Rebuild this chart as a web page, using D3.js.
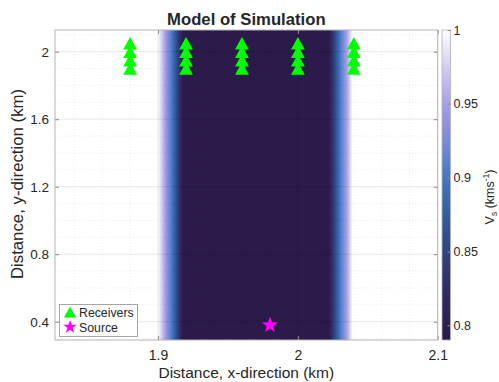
<!DOCTYPE html>
<html>
<head>
<meta charset="utf-8">
<script src="https://cdn.jsdelivr.net/npm/d3@7"></script>
<style>
  body { margin: 0; background: #fff; }
  text { font-family: "Liberation Sans", Arial, sans-serif; fill: #262626; }
</style>
</head>
<body>
<div id="container"></div>
<script>
// velocity profile across x (km, km/s)
const xProfile = [1.826, 1.900, 1.905, 1.910, 1.914, 1.918, 2.022, 2.026, 2.030, 2.035, 2.039, 2.100];
const vProfile = [1.00, 1.00, 0.95, 0.90, 0.85, 0.79, 0.79, 0.85, 0.90, 0.95, 1.00, 1.00];

const receiverX = [1.88, 1.92, 1.96, 2.00, 2.04];
const receiverY = [2.05, 2.00, 1.95, 1.90];
const sourceXY = [1.98, 0.38];

const xTicks = [1.9, 2, 2.1];
const yTicks = [0.4, 0.8, 1.2, 1.6, 2];
const cbTicks = [0.8, 0.85, 0.9, 0.95, 1];

const cmapStops = [0, 0.15, 0.35, 0.5, 0.62, 0.75, 0.88, 1];
const cmapColors = ["#2b1a4a", "#2e2a62", "#2f5192", "#3d72bb", "#6e88d8", "#a39be6", "#d2cdf4", "#ffffff"];

const W = 499, H = 382;
const L = 55, R = 437.7, T = 30, B = 340;

const svg = d3.select("#container").append("svg")
	.attr("width", W)
	.attr("height", H);

const x = d3.scaleLinear().domain([1.8263, 2.1]).range([L, R]);
const y = d3.scaleLinear().domain([0.2916, 2.1286]).range([B, T]);
const vExtent = [0.79, 1.0];
const tScale = d3.scaleLinear().domain(vExtent).range([0, 1]).clamp(true);
const cmap = d3.scaleLinear().domain(cmapStops).range(cmapColors).interpolate(d3.interpolateRgb);
const color = v => cmap(tScale(v));

const defs = svg.append("defs");

// heatmap gradient built from the profile
const grad = defs.append("linearGradient").attr("id", "model")
	.attr("gradientUnits", "userSpaceOnUse")
	.attr("x1", L).attr("x2", R).attr("y1", 0).attr("y2", 0);
for (let i = 0; i < xProfile.length - 1; i++) {
	for (let k = 0; k <= 8; k++) {
		const f = k / 8;
		const xv = xProfile[i] + f * (xProfile[i + 1] - xProfile[i]);
		const vv = vProfile[i] + f * (vProfile[i + 1] - vProfile[i]);
		grad.append("stop")
			.attr("offset", (x(xv) - L) / (R - L))
			.attr("stop-color", color(vv));
	}
}
svg.append("rect")
	.attr("x", L).attr("y", T).attr("width", R - L).attr("height", B - T)
	.attr("fill", "url(#model)");

// grid (drawn on top, faint)
const grid = svg.append("g").attr("stroke", "#000");
d3.range(1.84, 2.1001, 0.02).forEach(v => {
	const major = xTicks.some(t => Math.abs(t - v) < 1e-6);
	grid.append("line")
		.attr("x1", x(v)).attr("x2", x(v)).attr("y1", T).attr("y2", B)
		.attr("stroke-opacity", major ? 0.09 : 0.07)
		.attr("stroke-dasharray", major ? null : "1,2");
});
d3.range(0.3, 2.1001, 0.1).forEach(v => {
	const major = yTicks.some(t => Math.abs(t - v) < 1e-6);
	grid.append("line")
		.attr("x1", L).attr("x2", R).attr("y1", y(v)).attr("y2", y(v))
		.attr("stroke-opacity", major ? 0.09 : 0.07)
		.attr("stroke-dasharray", major ? null : "1,2");
});

// axes
const xAxis = d3.axisBottom(x).tickValues(xTicks).tickFormat(d3.format("")).tickSize(-4).tickPadding(10);
const yAxis = d3.axisLeft(y).tickValues(yTicks).tickFormat(d3.format("")).tickSize(-4).tickPadding(6);
const gx = svg.append("g").attr("transform", `translate(0,${B})`).call(xAxis);
const gy = svg.append("g").attr("transform", `translate(${L},0)`).call(yAxis);
svg.append("g").attr("transform", `translate(0,${T})`)
	.call(d3.axisTop(x).tickValues(xTicks).tickFormat("").tickSize(-4));
svg.append("g").attr("transform", `translate(${R},0)`)
	.call(d3.axisRight(y).tickValues(yTicks).tickFormat("").tickSize(-4));
svg.selectAll(".domain").attr("stroke", "none");
svg.selectAll(".tick line").attr("stroke", "#8c8c8c");
gx.selectAll("text").attr("font-size", 14).attr("fill", "#262626");
gy.selectAll("text").attr("font-size", 13.5).attr("fill", "#262626");
svg.append("rect")
	.attr("x", L).attr("y", T).attr("width", R - L).attr("height", B - T)
	.attr("fill", "none").attr("stroke", "#b3b3b3").attr("stroke-width", 1);

// receivers
const tri = s => `M0,${-s * 0.5}L${s * 0.55},${s * 0.5}L${-s * 0.55},${s * 0.5}Z`;
function star(r) {
	const pts = [];
	for (let i = 0; i < 10; i++) {
		const a = -Math.PI / 2 + i * Math.PI / 5;
		const rr = i % 2 ? r * 0.4 : r;
		pts.push([rr * Math.cos(a), rr * Math.sin(a)]);
	}
	return "M" + pts.join("L") + "Z";
}
const recs = [];
receiverX.forEach(rx => receiverY.forEach(ry => recs.push({x: rx, y: ry})));
svg.selectAll("path.rec").data(recs).enter().append("path")
	.attr("class", "rec")
	.attr("d", tri(12.5))
	.attr("transform", d => `translate(${x(d.x)},${y(d.y)})`)
	.attr("fill", "#00ff00");

svg.append("path")
	.attr("d", star(8.5))
	.attr("transform", `translate(${x(sourceXY[0])},${y(sourceXY[1])})`)
	.attr("fill", "#ff00ff");

// legend
const lg = svg.append("g");
lg.append("rect").attr("x", 59.5).attr("y", 304.5).attr("width", 78).attr("height", 32)
	.attr("fill", "#fff").attr("stroke", "#a6a6a6");
lg.append("path").attr("d", tri(11)).attr("transform", "translate(70,312)").attr("fill", "#00ff00");
lg.append("path").attr("d", star(7)).attr("transform", "translate(70,327)").attr("fill", "#ff00ff");
lg.append("text").attr("x", 79).attr("y", 317).attr("font-size", 12.3).text("Receivers");
lg.append("text").attr("x", 79).attr("y", 332).attr("font-size", 12.3).text("Source");

// colorbar
const cbX = 442, cbW = 8.5;
const cy = d3.scaleLinear().domain(vExtent).range([B, T]);
const cbGrad = defs.append("linearGradient").attr("id", "cb")
	.attr("x1", 0).attr("x2", 0).attr("y1", 1).attr("y2", 0);
cmapStops.forEach((s, i) => cbGrad.append("stop").attr("offset", s).attr("stop-color", cmapColors[i]));
svg.append("rect").attr("x", cbX).attr("y", T).attr("width", cbW).attr("height", B - T)
	.attr("fill", "url(#cb)").attr("stroke", "#b3b3b3").attr("stroke-width", 0.8);
const gcb = svg.append("g").attr("transform", `translate(${cbX + cbW},0)`)
	.call(d3.axisRight(cy).tickValues(cbTicks).tickFormat(d3.format("")).tickSize(-3).tickPadding(3));
gcb.select(".domain").remove();
gcb.selectAll(".tick line").attr("stroke", "#8c8c8c");
gcb.selectAll("text").attr("font-size", 12.5).attr("fill", "#262626");

const cbl = svg.append("text")
	.attr("transform", "translate(494,197) rotate(-90)")
	.attr("text-anchor", "middle")
	.attr("font-size", 12.5);
cbl.append("tspan").text("V");
cbl.append("tspan").attr("font-size", 8.5).attr("dy", 3).text("s");
cbl.append("tspan").attr("dy", -3).text(" (kms");
cbl.append("tspan").attr("font-size", 8.5).attr("dy", -5).text("-1");
cbl.append("tspan").attr("dy", 5).text(")");

// titles
svg.append("text").attr("x", (L + R) / 2).attr("y", 25)
	.attr("text-anchor", "middle").attr("font-size", 16.7).attr("font-weight", "bold")
	.attr("fill", "#000").text("Model of Simulation");
svg.append("text").attr("x", (L + R) / 2).attr("y", 378)
	.attr("text-anchor", "middle").attr("font-size", 15.5).text("Distance, x-direction (km)");
svg.append("text").attr("transform", `translate(23,184) rotate(-90)`)
	.attr("text-anchor", "middle").attr("font-size", 16.8).text("Distance, y-direction (km)");
</script>
</body>
</html>
